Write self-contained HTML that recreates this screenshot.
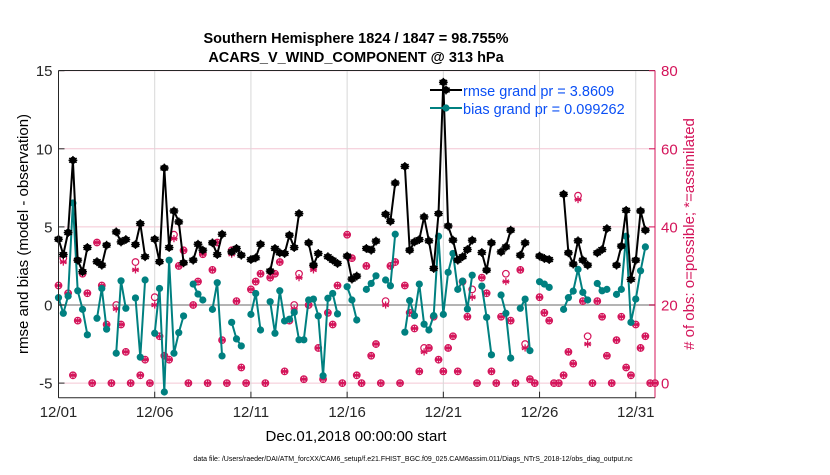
<!DOCTYPE html>
<html><head><meta charset="utf-8"><style>
body{margin:0;background:#fff;}
svg text{font-family:"Liberation Sans",Arial,sans-serif;}
</style></head><body>
<svg id="chart" width="830" height="470" viewBox="0 0 830 470" xmlns="http://www.w3.org/2000/svg">
<rect width="830" height="470" fill="#fff"/>
<text x="356" y="43" text-anchor="middle" font-size="14.5" font-weight="bold">Southern Hemisphere 1824 / 1847 = 98.755%</text>
<text x="356" y="62" text-anchor="middle" font-size="14.5" font-weight="bold">ACARS_V_WIND_COMPONENT @ 313 hPa</text>
<g id="grid"></g>
<g id="marks"></g>
<g id="axes"></g>
<text transform="translate(28,234) rotate(-90)" text-anchor="middle" font-size="15">rmse and bias (model - observation)</text>
<text transform="translate(694,234) rotate(-90)" text-anchor="middle" font-size="15" fill="#d4145a"># of obs: o=possible; *=assimilated</text>
<text x="356" y="441" text-anchor="middle" font-size="15">Dec.01,2018 00:00:00 start</text>
<text x="413" y="461" text-anchor="middle" font-size="7">data file: /Users/raeder/DAI/ATM_forcXX/CAM6_setup/f.e21.FHIST_BGC.f09_025.CAM6assim.011/Diags_NTrS_2018-12/obs_diag_output.nc</text>
<g id="legend">
<line x1="430" y1="90" x2="462" y2="90" stroke="#000" stroke-width="2"/>
<line x1="430" y1="108" x2="462" y2="108" stroke="#008080" stroke-width="2"/>
<text x="463" y="96" font-size="14.5" fill="#0a4ff5">rmse grand pr = 3.8609</text>
<text x="463" y="114" font-size="14.5" fill="#0a4ff5">bias grand pr = 0.099262</text>
</g>
</svg>
<script>
const n=null;
const xTickLabels=["12/01","12/06","12/11","12/16","12/21","12/26","12/31"];
const xTickIndex=[0,20,40,60,80,100,120];
const leftTicks=[-5,0,5,10,15];
const rightTicks=[0,20,40,60,80];
const rmse=[4.21,3.23,4.64,9.26,2.87,2.13,3.68,n,2.77,2.55,3.83,n,4.68,4.04,4.19,n,3.87,5.21,3.09,n,4.21,2.77,8.77,3.68,6.02,5.32,2.70,n,2.87,3.89,3.51,n,3.98,3.23,4.53,n,3.40,3.62,3.19,n,2.91,3.02,3.89,n,2.17,3.62,3.34,3.30,4.47,3.68,5.85,n,3.98,2.55,3.30,n,3.09,2.87,2.66,n,3.13,1.66,1.85,n,3.62,3.51,4.09,n,5.81,5.36,7.81,n,8.87,3.51,4.04,4.19,5.64,4.11,2.34,5.85,14.26,5.06,4.15,2.87,3.09,3.55,4.15,n,3.36,2.23,3.98,n,3.40,3.72,4.79,n,3.19,3.98,n,n,3.13,2.98,2.91,n,n,7.09,3.34,2.62,4.11,2.87,2.55,n,3.34,3.55,4.89,n,2.55,3.77,6.06,1.64,2.87,6.02,4.79,n,n];
const bias=[0.47,-0.53,0.57,6.53,0.91,-0.28,-1.91,n,-0.85,1.06,-1.55,n,-3.09,1.55,-0.21,n,0.45,-3.34,1.6,n,-1.81,1.06,-5.57,2.87,-3.09,-1.77,-0.70,n,1.34,0.70,0.32,n,-0.28,1.43,-3.26,n,-1.11,-2.17,-2.62,n,-0.60,0.74,-1.60,n,0.21,-1.81,0.91,-1.02,-0.91,-0.47,-2.23,-2.23,0.32,0.38,-0.70,-4.53,0.43,0.74,-0.57,n,1.17,0.32,-0.96,n,1.0,1.38,1.87,n,1.6,1.23,4.53,n,-1.74,0.28,-0.68,1.34,-1.23,-1.6,-0.68,4.40,-0.60,2.09,3.30,1.0,1.53,-0.26,1.91,n,1.21,-0.79,-3.19,n,0.64,-0.53,-3.4,n,-0.21,0.38,-2.92,n,1.49,1.34,1.13,n,n,-0.28,0.47,0.89,2.28,0.81,0.32,n,1.38,0.91,1.0,n,0.68,1.0,4.40,-1.11,0.38,2.19,3.72,n,n];
const possible=[25,32,23,2,16,28,23,0,36,25,15,0,20,15,8,0,31,2,6,0,22,12,7,6,38,30,34,0,20,26,33,0,29,36,11,0,34,21,4,0,24,26,28,0,27,28,31,3,16,20,28,1,20,30,9,1,18,15,25,0,38,32,2,0,30,7,10,0,21,30,31,0,25,18,14,3,9,9,17,6,3,9,12,3,26,17,24,0,27,23,3,0,17,28,16,0,29,10,1,0,22,18,16,0,0,2,8,5,48,21,12,0,21,17,7,0,11,17,4,2,15,9,12,0,0];
const assimilated=[25,31,23,2,16,28,23,0,36,25,15,0,19,15,8,0,29,2,6,0,20,12,7,6,37,30,34,0,20,26,33,0,29,36,11,0,33,21,4,0,24,26,28,0,27,28,31,3,16,19,27,1,20,29,9,1,18,15,25,0,38,32,2,0,30,7,10,0,20,30,31,0,25,18,14,3,8,9,17,6,3,9,12,3,26,17,22,0,27,23,3,0,17,26,16,0,29,9,1,0,22,18,16,0,0,2,8,5,47,21,10,0,21,17,7,0,11,17,4,2,15,9,12,0,0];

const NS="http://www.w3.org/2000/svg";
const X0=58.5,X1=655,Y0=70.5,Y1=397.7;
const dx=(X1-X0)/124;
const xs=i=>X0+i*dx;
const yl=v=>305-v*15.62;
const yr=c=>383.1-c*3.905;
const RED="#d4145a",TEAL="#008080";
function mk(tag,attrs,parent){const e=document.createElementNS(NS,tag);for(const k in attrs)e.setAttribute(k,attrs[k]);parent.appendChild(e);return e;}
const grid=document.getElementById('grid'),marks=document.getElementById('marks'),axes=document.getElementById('axes');
rightTicks.forEach(t=>{const l=mk('line',{x1:X0,x2:X1,y1:yr(t),y2:yr(t),stroke:'#f4c6d4','stroke-width':1},grid);

});
xTickIndex.forEach(t=>{const l=mk('line',{x1:xs(t),x2:xs(t),y1:Y0,y2:Y1,stroke:'#d8d8d8','stroke-width':1},grid);

});
const z=mk('line',{x1:X0,x2:X1,y1:yl(0),y2:yl(0),stroke:'#b4b4b4','stroke-width':2},grid);


function star(cx,cy,r,col,w,parent){const g=mk('g',{},parent);for(let a=0;a<3;a++){const th=Math.PI/2+a*Math.PI/3;mk('line',{x1:cx-r*Math.cos(th),y1:cy-r*Math.sin(th),x2:cx+r*Math.cos(th),y2:cy+r*Math.sin(th),stroke:col,'stroke-width':w},g);}mk('line',{x1:cx-r,y1:cy,x2:cx+r,y2:cy,stroke:col,'stroke-width':w},g);return g;}
possible.forEach((c,i)=>{const p=mk('circle',{cx:xs(i),cy:yr(c),r:3.3,fill:'none',stroke:RED,'stroke-width':1.2},marks);

});
assimilated.forEach((c,i)=>{const s=star(xs(i),yr(c),3.6,RED,1.3,marks);

});
function series(arr,col,name,isStar){let d='',pen=false;arr.forEach((v,i)=>{if(v===null){pen=false;return;}d+=(pen?'L':'M')+xs(i).toFixed(1)+' '+yl(v).toFixed(1);pen=true;});
const p=mk('path',{d:d,fill:'none',stroke:col,'stroke-width':2,'stroke-linejoin':'round'},marks);


arr.forEach((v,i)=>{if(v===null)return;const c=mk('circle',{cx:xs(i),cy:yl(v),r:3.6,fill:col},marks);


if(isStar)star(xs(i),yl(v),4.4,col,1.4,marks);});}
series(bias,TEAL,'bias',false);
series(rmse,'#000','rmse',true);
const lg=document.getElementById('legend');
mk('circle',{cx:446,cy:90,r:3.6,fill:'#000'},lg);star(446,90,4.4,'#000',1.4,lg);
mk('circle',{cx:446,cy:108,r:3.6,fill:TEAL},lg);
mk('line',{x1:X0,x2:X1,y1:Y0,y2:Y0,stroke:'#262626','stroke-width':1},axes);
mk('line',{x1:X0,x2:X1,y1:Y1,y2:Y1,stroke:'#262626','stroke-width':1},axes);
mk('line',{x1:X0,x2:X0,y1:Y0,y2:Y1,stroke:'#262626','stroke-width':1},axes);
mk('line',{x1:X1,x2:X1,y1:Y0,y2:Y1,stroke:RED,'stroke-width':1},axes);
leftTicks.forEach(t=>{mk('line',{x1:X0,x2:X0+6,y1:yl(t),y2:yl(t),stroke:'#262626'},axes);
const tx=mk('text',{x:X0-6,y:yl(t)+5.5,'text-anchor':'end','font-size':15,fill:'#262626'},axes);tx.textContent=t;

});
rightTicks.forEach(t=>{mk('line',{x1:X1-6,x2:X1,y1:yr(t),y2:yr(t),stroke:RED},axes);
const tx=mk('text',{x:X1+6,y:yr(t)+5.5,'font-size':15,fill:RED},axes);tx.textContent=t;

});
xTickIndex.forEach((t,k)=>{mk('line',{x1:xs(t),x2:xs(t),y1:Y1,y2:Y1-6,stroke:'#262626'},axes);
const tx=mk('text',{x:xs(t),y:417,'text-anchor':'middle','font-size':15,fill:'#262626'},axes);tx.textContent=xTickLabels[k];

});
</script>
</body></html>
